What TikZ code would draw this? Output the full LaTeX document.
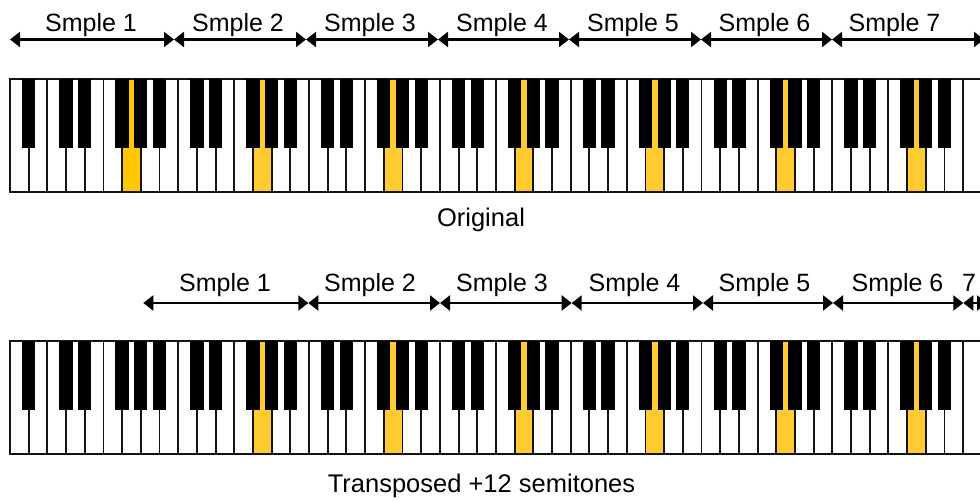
\documentclass[tikz,border=0pt]{standalone}
\usepackage{fontspec}
\setmainfont{Liberation Sans}
\usetikzlibrary{arrows.meta}
\definecolor{hlfirst}{HTML}{FFC800}
\definecolor{hlkey}{HTML}{FFCB30}
\definecolor{keyline}{HTML}{141414}
\def\kw{18.69}
\def\kh{113}
\def\bw{13.3}
\def\bh{69}
\tikzset{
  whitekey/.style={draw=keyline, line width=1.9pt, fill=white},
  blackkey/.style={fill=black},
  dimarrow/.style={line width=2.2pt, {Triangle[length=10pt,width=15pt]}-{Triangle[length=10pt,width=15pt]}},
  lbl/.style={font=\fontsize{25}{30}\selectfont, inner sep=0pt, anchor=base},
  caption/.style={font=\fontsize{25.5}{30}\selectfont, inner sep=0pt, anchor=base},
}
\newcommand\pianokbd[2]{%
  \foreach \i in {0,...,51}
    \path[whitekey] ({10+\i*\kw},#1) rectangle ++(\kw,\kh);
  \foreach \i/\c in {#2}
    \path[whitekey, fill=\c] ({10+\i*\kw},#1) rectangle ++(\kw,\kh);
  \foreach \i in {0,...,50} {
    \pgfmathtruncatemacro\m{mod(\i,7)}
    \ifnum\m=1 \else \ifnum\m=4 \else
      \fill[blackkey] ({10+(\i+1)*\kw-\bw/2},#1) rectangle ++(\bw,\bh);
    \fi\fi
  }
}
\begin{document}
\begin{tikzpicture}[x=1pt,y=-1pt]
\path[use as bounding box, clip] (0,0) rectangle (980,502);
\fill[white] (0,0) rectangle (980,502);

% keyboards
\pianokbd{79}{6/hlfirst,13/hlkey,20/hlkey,27/hlkey,34/hlkey,41/hlkey,48/hlkey}
\pianokbd{340.7}{13/hlkey,20/hlkey,27/hlkey,34/hlkey,41/hlkey,48/hlkey}

% top sample ranges
\coordinate (t0) at (10,39.5);
\coordinate (t1) at (174,39.5);
\coordinate (t2) at (306,39.5);
\coordinate (t3) at (438,39.5);
\coordinate (t4) at (569,39.5);
\coordinate (t5) at (701,39.5);
\coordinate (t6) at (832,39.5);
\coordinate (t7) at (984,39.5);
\draw[dimarrow] (t0) -- (t1);
\draw[dimarrow] (t1) -- (t2);
\draw[dimarrow] (t2) -- (t3);
\draw[dimarrow] (t3) -- (t4);
\draw[dimarrow] (t4) -- (t5);
\draw[dimarrow] (t5) -- (t6);
\draw[dimarrow] (t6) -- (t7);
\node[lbl] (ts1) at (91,31.5) {Smple 1};
\node[lbl] (ts2) at (238,31.5) {Smple 2};
\node[lbl] (ts3) at (370,31.5) {Smple 3};
\node[lbl] (ts4) at (502,31.5) {Smple 4};
\node[lbl] (ts5) at (633,31.5) {Smple 5};
\node[lbl] (ts6) at (764.5,31.5) {Smple 6};
\node[lbl] (ts7) at (894.5,31.5) {Smple 7};

% bottom sample ranges
\coordinate (b0) at (143.3,303);
\coordinate (b1) at (308.3,303);
\coordinate (b2) at (440,303);
\coordinate (b3) at (571.7,303);
\coordinate (b4) at (703,303);
\coordinate (b5) at (833,303);
\coordinate (b6) at (963.3,303);
\coordinate (b7) at (987,303);
\draw[dimarrow] (b0) -- (b1);
\draw[dimarrow] (b1) -- (b2);
\draw[dimarrow] (b2) -- (b3);
\draw[dimarrow] (b3) -- (b4);
\draw[dimarrow] (b4) -- (b5);
\draw[dimarrow] (b5) -- (b6);
\draw[dimarrow] (b6) -- (b7);
\node[lbl] (bs1) at (225,292) {Smple 1};
\node[lbl] (bs2) at (370,292) {Smple 2};
\node[lbl] (bs3) at (502,292) {Smple 3};
\node[lbl] (bs4) at (634.5,292) {Smple 4};
\node[lbl] (bs5) at (764.5,292) {Smple 5};
\node[lbl] (bs6) at (897.5,292) {Smple 6};
\node[lbl] (bs7) at (969,292) {7};

% captions
\node[caption] (orig) at (481,227) {Original};
\node[caption] (trans) at (481.5,492) {Transposed +12 semitones};
\end{tikzpicture}
\end{document}
